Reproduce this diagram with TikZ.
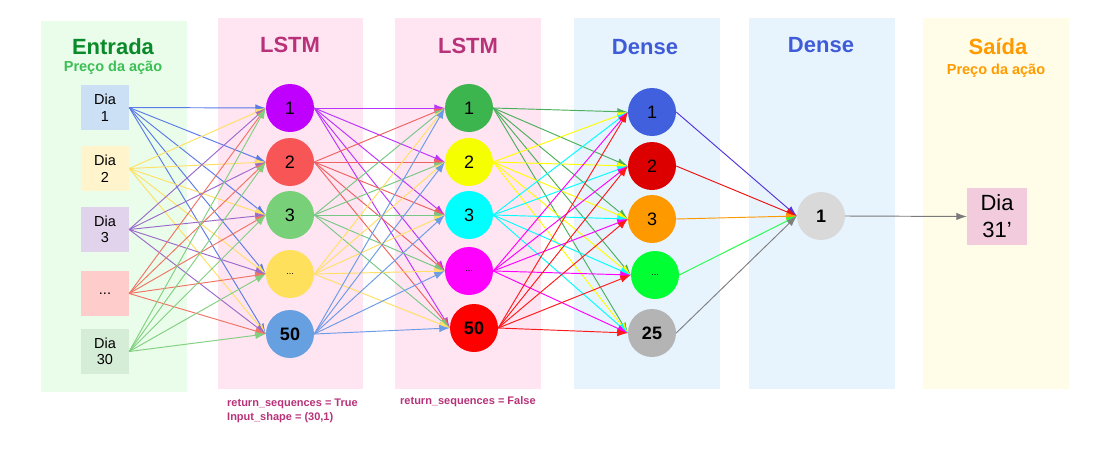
\documentclass[tikz,border=0pt]{standalone}
\usepackage{fontspec}
\setmainfont{Liberation Sans}
\usetikzlibrary{arrows.meta}
\definecolor{pG}{HTML}{EAFDEA}
\definecolor{pP}{HTML}{FFE4F1}
\definecolor{pB}{HTML}{E7F4FE}
\definecolor{pY}{HTML}{FFFDE7}
\definecolor{tEnt}{HTML}{0A8A2A}
\definecolor{tPreco}{HTML}{3CBF55}
\definecolor{tLstm}{HTML}{B8327A}
\definecolor{tDense}{HTML}{3F5BD8}
\definecolor{tSai}{HTML}{FF9B00}
% input boxes
\definecolor{bx1}{HTML}{CCE0F5}
\definecolor{bx2}{HTML}{FFF4CC}
\definecolor{bx3}{HTML}{E1D3EB}
\definecolor{bx4}{HTML}{FFCCCC}
\definecolor{bx5}{HTML}{D5EDD6}
\definecolor{bxo}{HTML}{F2CCDD}
% input edges
\definecolor{e1}{HTML}{5B7BE8}
\definecolor{e2}{HTML}{FFE066}
\definecolor{e3}{HTML}{9B6BCB}
\definecolor{e4}{HTML}{F07565}
\definecolor{e5}{HTML}{80D080}
% lstm1 nodes / edges
\definecolor{a1}{HTML}{BF00FF}
\definecolor{a2}{HTML}{F85656}
\definecolor{a3}{HTML}{78D078}
\definecolor{a4}{HTML}{FFE05C}
\definecolor{a5}{HTML}{66A0E0}
\definecolor{ae1}{HTML}{BB33FF}
\definecolor{ae2}{HTML}{F06262}
\definecolor{ae3}{HTML}{77C887}
\definecolor{ae4}{HTML}{FFE066}
\definecolor{ae5}{HTML}{6C9BE8}
% lstm2
\definecolor{b1}{HTML}{3DB54E}
\definecolor{b2}{HTML}{F5FF00}
\definecolor{b3}{HTML}{00FFFF}
\definecolor{b4}{HTML}{FF00FF}
\definecolor{b5}{HTML}{FF0000}
\definecolor{be1}{HTML}{4CAF5C}
\definecolor{be2}{HTML}{FFFF00}
\definecolor{be3}{HTML}{00FFFF}
\definecolor{be4}{HTML}{FF00FF}
\definecolor{be5}{HTML}{FF1A1A}
% dense1
\definecolor{c1}{HTML}{4060DD}
\definecolor{c2}{HTML}{DD0000}
\definecolor{c3}{HTML}{FF9900}
\definecolor{c4}{HTML}{00FF33}
\definecolor{c5}{HTML}{B4B4B4}
\definecolor{ce1}{HTML}{5533DD}
\definecolor{ce2}{HTML}{EE1111}
\definecolor{ce3}{HTML}{FF9900}
\definecolor{ce4}{HTML}{22FF44}
\definecolor{ce5}{HTML}{808080}
\definecolor{dnode}{HTML}{D9D9D9}
\definecolor{gout}{HTML}{7A7A7A}
\begin{document}
\begin{tikzpicture}[x=1pt,y=-1pt,
  title/.style={font=\fontsize{22}{24}\selectfont\bfseries, inner sep=0pt},
  subtitle/.style={font=\fontsize{14.5}{16}\selectfont\bfseries, inner sep=0pt},
  inbox/.style={minimum width=48pt, minimum height=45pt, inner sep=0pt, align=center,
    font=\fontsize{14.5}{16.5}\selectfont},
  neuron/.style={circle, minimum size=48pt, inner sep=0pt, font=\fontsize{18}{20}\selectfont},
  bigneuron/.style={neuron, font=\fontsize{18}{20}\selectfont\bfseries},
  dotneuron/.style={neuron, font=\fontsize{9}{10}\selectfont},
  edge/.style={line width=0.95pt, -{Latex[length=10.5pt,width=7.5pt]}},
  lab/.style={font=\fontsize{11}{12}\selectfont\bfseries, text=tLstm, inner sep=0pt, anchor=west}
]
\useasboundingbox (0,0) rectangle (1107,455);
\fill[white] (0,0) rectangle (1107,455);
% panels
\fill[pG] (41,21) rectangle (187,392);
\fill[pP] (218,18) rectangle (363,389);
\fill[pP] (395,18) rectangle (541,389);
\fill[pB] (574,18) rectangle (720,389);
\fill[pB] (749,18) rectangle (895,389);
\fill[pY] (923,18) rectangle (1069,389);
% titles
\node[title, text=tEnt] (tEntrada) at (113,47) {Entrada};
\node[subtitle, text=tPreco] (sEntrada) at (113,67.5) {Preço da ação};
\node[title, text=tLstm] (tL1) at (290,45) {LSTM};
\node[title, text=tLstm] (tL2) at (468,46) {LSTM};
\node[title, text=tDense] (tD1) at (645,47) {Dense};
\node[title, text=tDense] (tD2) at (821,45) {Dense};
\node[title, text=tSai] (tSaida) at (998,47) {Saída};
\node[subtitle, text=tSai] (sSaida) at (996,70.5) {Preço da ação};
% inputs
\node[inbox, fill=bx1] (in1) at (105,107.5) {Dia\\1};
\node[inbox, fill=bx2] (in2) at (105,168.5) {Dia\\2};
\node[inbox, fill=bx3] (in3) at (105,229.5) {Dia\\3};
\node[inbox, fill=bx4] (in4) at (105,293.5) {...};
\node[inbox, fill=bx5] (in5) at (105,351.5) {Dia\\30};
% LSTM 1
\node[neuron, fill=a1] (a1) at (290,108) {1};
\node[neuron, fill=a2] (a2) at (290,162) {2};
\node[neuron, fill=a3] (a3) at (290,215) {3};
\node[dotneuron, fill=a4] (a4) at (290,274) {...};
\node[bigneuron, fill=a5] (a5) at (290,334) {50};
% LSTM 2
\node[neuron, fill=b1] (b1) at (469,108) {1};
\node[neuron, fill=b2] (b2) at (469,162) {2};
\node[neuron, fill=b3] (b3) at (469,215) {3};
\node[dotneuron, fill=b4] (b4) at (469,271) {...};
\node[bigneuron, fill=b5] (b5) at (474,328) {50};
% Dense 1
\node[neuron, fill=c1] (c1) at (652,112) {1};
\node[neuron, fill=c2] (c2) at (652,166) {2};
\node[neuron, fill=c3] (c3) at (652,219) {3};
\node[dotneuron, fill=c4] (c4) at (655,275) {...};
\node[bigneuron, fill=c5] (c5) at (652,333) {25};
% Dense 2
\node[bigneuron, fill=dnode] (d1) at (821,216) {1};
% output
\node[inbox, fill=bxo, minimum width=60pt, minimum height=57pt,
  font=\fontsize{22}{27}\selectfont] (out) at (997,216.5) {Dia\\31’};
% edges
\foreach \i in {1,...,5}{
  \foreach \j in {1,...,5}{
    \draw[edge, draw=e\i] (in\i.east) -- (a\j.west);
    \draw[edge, draw=ae\i] (a\i.east) -- (b\j.west);
    \draw[edge, draw=be\i] (b\i.east) -- (c\j.west);
  }
  \draw[edge, draw=ce\i] (c\i.east) -- (d1.west);
}
\draw[edge, draw=gout] (d1.east) -- (out.west);
% labels
\node[lab] (lab1) at (227,404) {return\_sequences = True};
\node[lab] (lab2) at (227,418) {Input\_shape = (30,1)};
\node[lab] (lab3) at (400,402) {return\_sequences = False};
\end{tikzpicture}
\end{document}
